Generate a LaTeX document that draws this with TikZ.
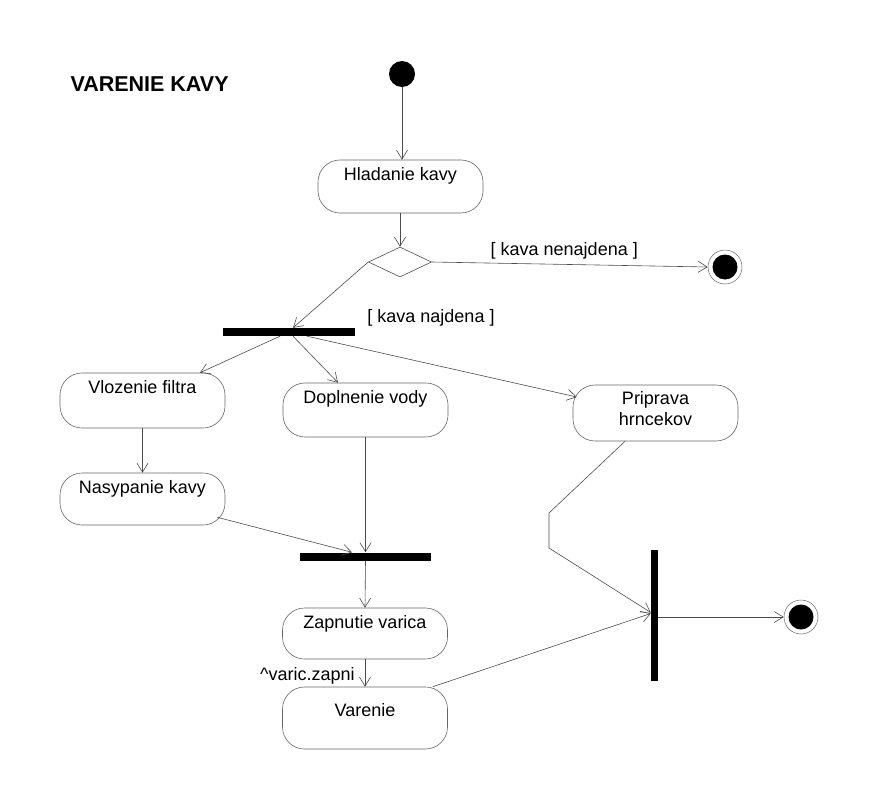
\documentclass[tikz,border=0pt]{standalone}
\usepackage{fontspec}
\setmainfont{Liberation Sans}
\usetikzlibrary{shapes.geometric,arrows.meta,calc}
\begin{document}
\begin{tikzpicture}[x=1pt,y=-1pt,
  every node/.style={font=\fontsize{18}{21}\selectfont},
  act/.style={draw=black!60, line width=0.6pt, rounded corners=22pt,
    minimum width=165pt, inner xsep=2pt, inner ysep=0pt,
    text height=20.5pt, text depth=#1},
  act/.default=32.5pt,
  bar/.style={fill=black, draw=none, inner sep=0pt},
  flow/.style={draw=black!70, line width=0.6pt, -{Straight Barb[length=9pt,width=11pt,line width=0.6pt]}},
  start/.style={circle, fill=black, minimum size=26pt, inner sep=0pt},
  finish/.style={circle, draw=black!60, line width=0.5pt, minimum size=34pt, inner sep=0pt,
    path picture={\fill[black] (path picture bounding box.center) circle (12.5pt);}},
  guard/.style={inner sep=1pt}
]
\useasboundingbox (0,0) rectangle (878,800);

\node[anchor=west, font=\fontsize{21.5}{24}\selectfont\bfseries] (title) at (67,84) {VARENIE KAVY};

\node[start] (init) at (402,74) {};
\node[act] (hlad) at (400.5,186.5) {Hladanie kavy};
\node[diamond, draw=black!70, line width=0.6pt, minimum width=63pt, minimum height=30pt, inner sep=0pt] (dec) at (400,262) {};
\node[finish] (fin1) at (725,267) {};
\node[bar, minimum width=132pt, minimum height=8pt] (fork1) at (289,332) {};

\node[act=34.5pt] (vloz) at (142.5,400.5) {Vlozenie filtra};
\node[act=31.5pt] (nasy) at (142.5,499) {Nasypanie kavy};
\node[act=33.5pt] (dopl) at (365.5,410) {Doplnenie vody};
\node[draw=black!60, line width=0.6pt, rounded corners=22pt, minimum width=165pt, minimum height=56pt, align=center, inner sep=2pt, text depth=9pt] (prip) at (655.5,413) {Priprava\\hrncekov};

\node[bar, minimum width=131pt, minimum height=8pt] (fork2) at (365.5,556.5) {};
\node[act=30.5pt] (zapn) at (365,633.5) {Zapnutie varica};
\node[act, text height=29pt, text depth=33pt] (vare) at (365,718) {Varenie};
\node[bar, minimum width=7pt, minimum height=131pt] (join) at (654.5,615.5) {};
\node[finish] (fin2) at (801,617) {};

\draw[flow] (init.south) -- (init.south |- hlad.north);
\draw[flow] (dec.north |- hlad.south) -- (dec.north);
\draw[flow] (dec.east) -- node[guard, above, pos=0.48, yshift=4pt] (g1) {[ kava nenajdena ]} (fin1.west);
\draw[flow] (dec.west) -- ([xshift=4pt]fork1.north);
\node[guard] (g2) at (431,318) {[ kava najdena ]};
\draw[flow] ([xshift=-9pt]fork1.south) -- ([xshift=57.5pt]vloz.north);
\draw[flow] ([xshift=4pt]fork1.south) -- ([xshift=-27.5pt]dopl.north);
\draw[flow] ([xshift=18pt]fork1.south) -- ([xshift=4pt,yshift=16pt]prip.west);
\draw[flow] (vloz.south) -- (nasy.north);
\draw[flow] ([xshift=-8pt,yshift=8pt]nasy.south east) -- ([xshift=-13.5pt]fork2.north);
\draw[flow] (dopl.south) -- (fork2.north);
\draw[flow] (fork2.south) -- (zapn.north);
\draw[flow] (zapn.south) -- node[guard, left, pos=0.62, xshift=-9pt] (g3) {\textasciicircum varic.zapni} (vare.north);
\coordinate (k1) at (549,513);
\coordinate (k2) at (549,548);
\draw[flow] ([xshift=-30.5pt]prip.south) -- (k1) -- (k2) -- ([yshift=3pt]join.west);
\draw[flow] ([xshift=-15pt]vare.north east) -- ([yshift=2pt]join.west);
\draw[flow] (join.east |- fin2.west) -- (fin2.west);
\end{tikzpicture}
\end{document}
